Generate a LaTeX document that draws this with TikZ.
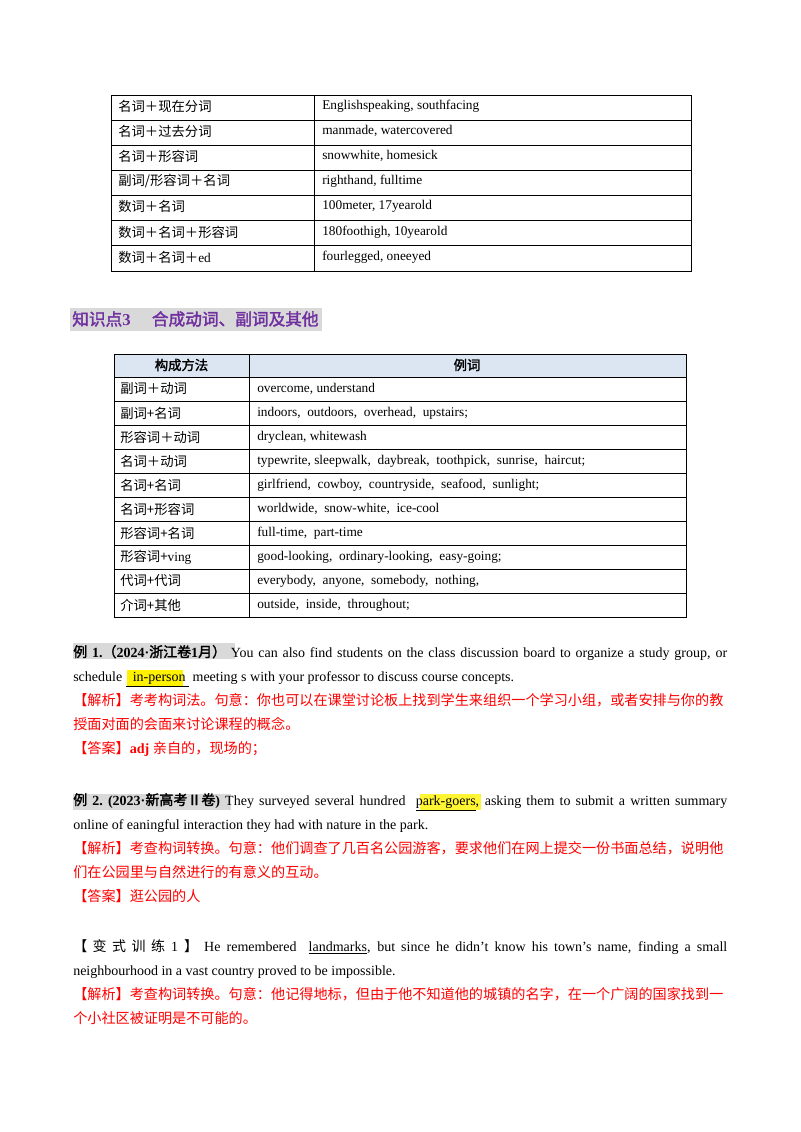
\documentclass[tikz,border=0pt]{standalone}
\usepackage{fontspec}
\setmainfont{Liberation Serif}
\newfontfamily\cjk{Noto Sans CJK SC}
\newfontfamily\cjkb[FakeBold=2]{Noto Sans CJK SC}
\newcommand\C[1]{{\cjk #1}}
\newcommand\CB[1]{{\cjkb #1}}
\definecolor{red1}{HTML}{FF0000}
\definecolor{purp}{HTML}{7030A0}
\definecolor{hdr}{HTML}{DCE6F2}
\definecolor{hl}{HTML}{D9D9D9}
\begin{document}
\begin{tikzpicture}[x=0.75pt,y=-0.75pt,
 cell/.style={anchor=west,inner sep=0pt,font=\fontsize{10}{12}\selectfont},
 line/.style={anchor=base west,inner sep=0pt,font=\fontsize{10.5}{12}\selectfont},
 rline/.style={line,text=red1,font=\fontsize{10.6}{12}\selectfont}]
\useasboundingbox[fill=white] (0,0) rectangle (800,1132);
% table 1
\draw[line width=0.6pt] (111,95) rectangle (691,271);
\foreach \y in {120,145,170,195,220,245} \draw[line width=0.6pt] (111,\y) -- (691,\y);
\draw[line width=0.6pt] (314,95) -- (314,271);
\node[cell] (a1) at (118,106) {\C{名词＋现在分词}};
\node[cell] (b1) at (322,106) {Englishspeaking, southfacing};
\node[cell] (a2) at (118,131) {\C{名词＋过去分词}};
\node[cell] (b2) at (322,131) {manmade, watercovered};
\node[cell] (a3) at (118,156) {\C{名词＋形容词}};
\node[cell] (b3) at (322,156) {snowwhite, homesick};
\node[cell] (a4) at (118,181) {\C{副词/形容词＋名词}};
\node[cell] (b4) at (322,181) {righthand, fulltime};
\node[cell] (a5) at (118,206) {\C{数词＋名词}};
\node[cell] (b5) at (322,206) {100meter, 17yearold};
\node[cell] (a6) at (118,232) {\C{数词＋名词＋形容词}};
\node[cell] (b6) at (322,232) {180foothigh, 10yearold};
\node[cell] (a7) at (118,257) {\C{数词＋名词＋}ed};
\node[cell] (b7) at (322,257) {fourlegged, oneeyed};
% heading
\fill[hl] (70,308) rectangle (322,331);
\node[anchor=west,inner sep=0pt,text=purp,font=\fontsize{12.5}{14}\selectfont] (h) at (72,319) {\CB{知识点}\textbf{3}\hspace{16pt}\CB{合成动词、副词及其他}};
% table 2
\fill[hdr] (114,354) rectangle (686,377);
\draw[line width=0.6pt] (114,354) rectangle (686,617);
\foreach \y in {377,401,425,449,473,497,521,545,569,593} \draw[line width=0.6pt] (114,\y) -- (686,\y);
\draw[line width=0.6pt] (249,354) -- (249,617);
\node[cell,anchor=center] (t0) at (181.5,365) {\CB{构成方法}};
\node[cell,anchor=center] (u0) at (467,365) {\CB{例词}};
\foreach \i/\y/\a/\b in {
 1/389/\C{副词＋动词}/{overcome, understand},
 2/413/\C{副词+名词}/{indoors,\ \ outdoors,\ \ overhead,\ \ upstairs;},
 3/437/\C{形容词＋动词}/{dryclean, whitewash},
 4/461/\C{名词＋动词}/{typewrite, sleepwalk,\ \ daybreak,\ \ toothpick,\ \ sunrise,\ \ haircut;},
 5/485/\C{名词+名词}/{girlfriend,\ \ cowboy,\ \ countryside,\ \ seafood,\ \ sunlight;},
 6/509/\C{名词+形容词}/{worldwide,\ \ snow-white,\ \ ice-cool},
 7/533/\C{形容词+名词}/{full-time,\ \ part-time},
 8/557/\C{形容词+}ving/{good-looking,\ \ ordinary-looking,\ \ easy-going;},
 9/581/\C{代词+代词}/{everybody,\ \ anyone,\ \ somebody,\ \ nothing,},
 10/605/\C{介词+其他}/{outside,\ \ inside,\ \ throughout;}}
 {\node[cell] (t\i) at (120,\y) {\a}; \node[cell] (u\i) at (257,\y) {\b};}
% example 1
\fill[hl] (73,643) rectangle (235,659);
\node[line] (e1) at (73,657) {\makebox[490.5pt][s]{\CB{例} \textbf{1.}\CB{（}\textbf{2024·}\CB{浙江卷}\textbf{1}\CB{月）} You can also find students on the class discussion board to organize a study group, or}};
\fill[yellow] (127,670) rectangle (183,686);
\node[line] (e2) at (73,681) {schedule \underline{\ \ in-person\ } meeting s with your professor to discuss course concepts.};
\node[rline] (e3) at (73,705) {\C{【解析】考考构词法。句意：你也可以在课堂讨论板上找到学生来组织一个学习小组，或者安排与你的教}};
\node[rline] (e4) at (73,729) {\C{授面对面的会面来讨论课程的概念。}};
\node[rline] (e5) at (73,753) {\C{【答案】}\textbf{adj} \C{亲自的，现场的；}};
% example 2
\fill[hl] (73,794) rectangle (231,810);
\fill[yellow!80!white] (420,794) rectangle (481,810);
\node[line] (f1) at (73,805) {\makebox[490.5pt][s]{\CB{例} \textbf{2.}\ \textbf{(2023·}\CB{新高考Ⅱ卷}\textbf{)} They surveyed several hundred \ \underline{park-goers}, asking them to submit a written summary}};
\node[line] (f2) at (73,829) {online of eaningful interaction they had with nature in the park.};
\node[rline] (f3) at (73,853) {\C{【解析】考查构词转换。句意：他们调查了几百名公园游客，要求他们在网上提交一份书面总结，说明他}};
\node[rline] (f4) at (73,877) {\C{们在公园里与自然进行的有意义的互动。}};
\node[rline] (f5) at (73,901) {\C{【答案】逛公园的人}};
% variant
\node[line] (g1) at (73,951) {\makebox[490.5pt][s]{\C{【 变 式 训 练} 1 \C{】} He remembered \ \underline{landmarks}, but since he didn’t know his town’s name, finding a small}};
\node[line] (g2) at (73,975) {neighbourhood in a vast country proved to be impossible.};
\node[rline] (g3) at (73,999) {\C{【解析】考查构词转换。句意：他记得地标，但由于他不知道他的城镇的名字，在一个广阔的国家找到一}};
\node[rline] (g4) at (73,1023) {\C{个小社区被证明是不可能的。}};
\end{tikzpicture}
\end{document}
